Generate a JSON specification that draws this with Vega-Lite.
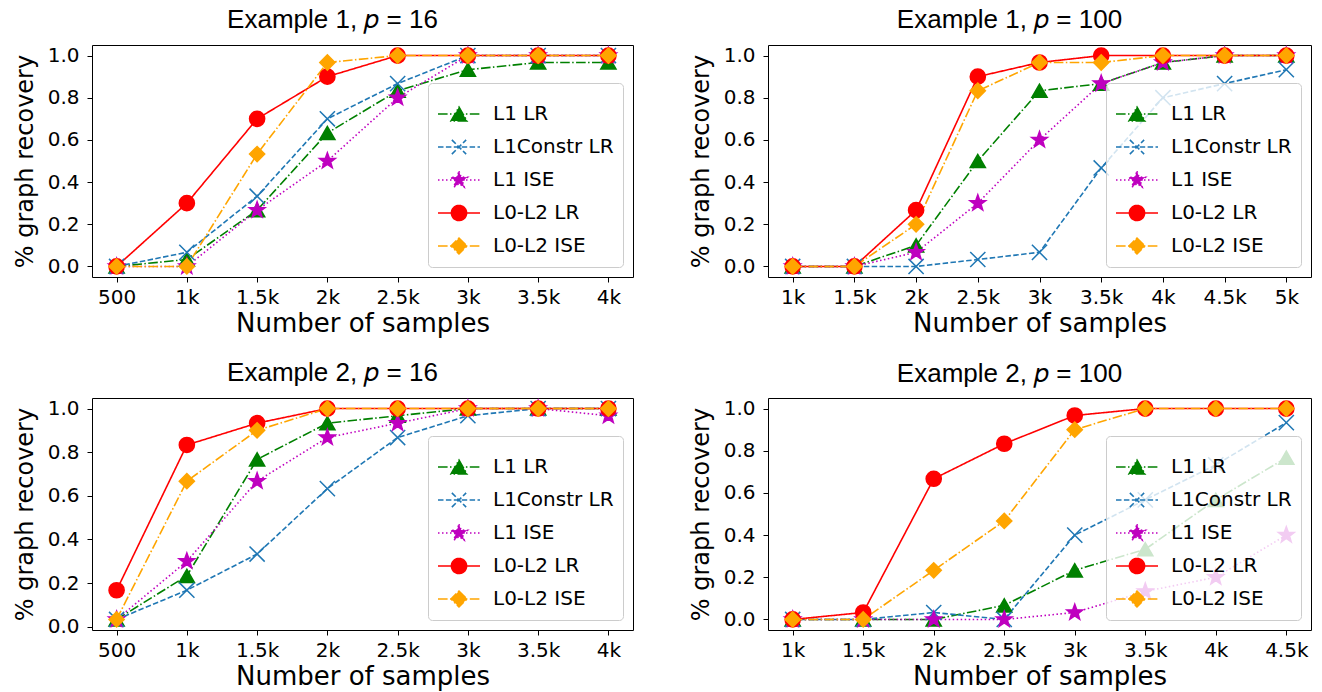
{
  "$schema": "https://vega.github.io/schema/vega-lite/v6.json",
  "background": "white",
  "padding": {"left": 12, "top": 6, "right": 5, "bottom": 5},
  "columns": 2,
  "spacing": {"row": 22, "column": 54},
  "datasets": {
    "e1p16": [
      {"n":500,"m":"L1 LR","v":0},{"n":1000,"m":"L1 LR","v":0.033},{"n":1500,"m":"L1 LR","v":0.267},{"n":2000,"m":"L1 LR","v":0.633},{"n":2500,"m":"L1 LR","v":0.833},{"n":3000,"m":"L1 LR","v":0.933},{"n":3500,"m":"L1 LR","v":0.967},{"n":4000,"m":"L1 LR","v":0.967},
      {"n":500,"m":"L1Constr LR","v":0},{"n":1000,"m":"L1Constr LR","v":0.067},{"n":1500,"m":"L1Constr LR","v":0.333},{"n":2000,"m":"L1Constr LR","v":0.7},{"n":2500,"m":"L1Constr LR","v":0.867},{"n":3000,"m":"L1Constr LR","v":1},{"n":3500,"m":"L1Constr LR","v":1},{"n":4000,"m":"L1Constr LR","v":1},
      {"n":500,"m":"L1 ISE","v":0},{"n":1000,"m":"L1 ISE","v":0},{"n":1500,"m":"L1 ISE","v":0.267},{"n":2000,"m":"L1 ISE","v":0.5},{"n":2500,"m":"L1 ISE","v":0.8},{"n":3000,"m":"L1 ISE","v":1},{"n":3500,"m":"L1 ISE","v":1},{"n":4000,"m":"L1 ISE","v":1},
      {"n":500,"m":"L0-L2 LR","v":0},{"n":1000,"m":"L0-L2 LR","v":0.3},{"n":1500,"m":"L0-L2 LR","v":0.7},{"n":2000,"m":"L0-L2 LR","v":0.9},{"n":2500,"m":"L0-L2 LR","v":1},{"n":3000,"m":"L0-L2 LR","v":1},{"n":3500,"m":"L0-L2 LR","v":1},{"n":4000,"m":"L0-L2 LR","v":1},
      {"n":500,"m":"L0-L2 ISE","v":0},{"n":1000,"m":"L0-L2 ISE","v":0},{"n":1500,"m":"L0-L2 ISE","v":0.533},{"n":2000,"m":"L0-L2 ISE","v":0.967},{"n":2500,"m":"L0-L2 ISE","v":1},{"n":3000,"m":"L0-L2 ISE","v":1},{"n":3500,"m":"L0-L2 ISE","v":1},{"n":4000,"m":"L0-L2 ISE","v":1}
    ],
    "e1p100": [
      {"n":1000,"m":"L1 LR","v":0},{"n":1500,"m":"L1 LR","v":0},{"n":2000,"m":"L1 LR","v":0.1},{"n":2500,"m":"L1 LR","v":0.5},{"n":3000,"m":"L1 LR","v":0.833},{"n":3500,"m":"L1 LR","v":0.867},{"n":4000,"m":"L1 LR","v":0.967},{"n":4500,"m":"L1 LR","v":1},{"n":5000,"m":"L1 LR","v":1},
      {"n":1000,"m":"L1Constr LR","v":0},{"n":1500,"m":"L1Constr LR","v":0},{"n":2000,"m":"L1Constr LR","v":0},{"n":2500,"m":"L1Constr LR","v":0.033},{"n":3000,"m":"L1Constr LR","v":0.067},{"n":3500,"m":"L1Constr LR","v":0.467},{"n":4000,"m":"L1Constr LR","v":0.8},{"n":4500,"m":"L1Constr LR","v":0.867},{"n":5000,"m":"L1Constr LR","v":0.933},
      {"n":1000,"m":"L1 ISE","v":0},{"n":1500,"m":"L1 ISE","v":0},{"n":2000,"m":"L1 ISE","v":0.067},{"n":2500,"m":"L1 ISE","v":0.3},{"n":3000,"m":"L1 ISE","v":0.6},{"n":3500,"m":"L1 ISE","v":0.867},{"n":4000,"m":"L1 ISE","v":0.967},{"n":4500,"m":"L1 ISE","v":1},{"n":5000,"m":"L1 ISE","v":1},
      {"n":1000,"m":"L0-L2 LR","v":0},{"n":1500,"m":"L0-L2 LR","v":0},{"n":2000,"m":"L0-L2 LR","v":0.267},{"n":2500,"m":"L0-L2 LR","v":0.9},{"n":3000,"m":"L0-L2 LR","v":0.967},{"n":3500,"m":"L0-L2 LR","v":1},{"n":4000,"m":"L0-L2 LR","v":1},{"n":4500,"m":"L0-L2 LR","v":1},{"n":5000,"m":"L0-L2 LR","v":1},
      {"n":1000,"m":"L0-L2 ISE","v":0},{"n":1500,"m":"L0-L2 ISE","v":0},{"n":2000,"m":"L0-L2 ISE","v":0.2},{"n":2500,"m":"L0-L2 ISE","v":0.833},{"n":3000,"m":"L0-L2 ISE","v":0.967},{"n":3500,"m":"L0-L2 ISE","v":0.967},{"n":4000,"m":"L0-L2 ISE","v":1},{"n":4500,"m":"L0-L2 ISE","v":1},{"n":5000,"m":"L0-L2 ISE","v":1}
    ],
    "e2p16": [
      {"n":500,"m":"L1 LR","v":0.033},{"n":1000,"m":"L1 LR","v":0.233},{"n":1500,"m":"L1 LR","v":0.767},{"n":2000,"m":"L1 LR","v":0.933},{"n":2500,"m":"L1 LR","v":0.967},{"n":3000,"m":"L1 LR","v":1},{"n":3500,"m":"L1 LR","v":1},{"n":4000,"m":"L1 LR","v":1},
      {"n":500,"m":"L1Constr LR","v":0.033},{"n":1000,"m":"L1Constr LR","v":0.167},{"n":1500,"m":"L1Constr LR","v":0.333},{"n":2000,"m":"L1Constr LR","v":0.633},{"n":2500,"m":"L1Constr LR","v":0.867},{"n":3000,"m":"L1Constr LR","v":0.967},{"n":3500,"m":"L1Constr LR","v":1},{"n":4000,"m":"L1Constr LR","v":1},
      {"n":500,"m":"L1 ISE","v":0.033},{"n":1000,"m":"L1 ISE","v":0.3},{"n":1500,"m":"L1 ISE","v":0.667},{"n":2000,"m":"L1 ISE","v":0.867},{"n":2500,"m":"L1 ISE","v":0.933},{"n":3000,"m":"L1 ISE","v":1},{"n":3500,"m":"L1 ISE","v":1},{"n":4000,"m":"L1 ISE","v":0.967},
      {"n":500,"m":"L0-L2 LR","v":0.167},{"n":1000,"m":"L0-L2 LR","v":0.833},{"n":1500,"m":"L0-L2 LR","v":0.933},{"n":2000,"m":"L0-L2 LR","v":1},{"n":2500,"m":"L0-L2 LR","v":1},{"n":3000,"m":"L0-L2 LR","v":1},{"n":3500,"m":"L0-L2 LR","v":1},{"n":4000,"m":"L0-L2 LR","v":1},
      {"n":500,"m":"L0-L2 ISE","v":0.033},{"n":1000,"m":"L0-L2 ISE","v":0.667},{"n":1500,"m":"L0-L2 ISE","v":0.9},{"n":2000,"m":"L0-L2 ISE","v":1},{"n":2500,"m":"L0-L2 ISE","v":1},{"n":3000,"m":"L0-L2 ISE","v":1},{"n":3500,"m":"L0-L2 ISE","v":1},{"n":4000,"m":"L0-L2 ISE","v":1}
    ],
    "e2p100": [
      {"n":1000,"m":"L1 LR","v":0},{"n":1500,"m":"L1 LR","v":0},{"n":2000,"m":"L1 LR","v":0},{"n":2500,"m":"L1 LR","v":0.067},{"n":3000,"m":"L1 LR","v":0.233},{"n":3500,"m":"L1 LR","v":0.333},{"n":4000,"m":"L1 LR","v":0.567},{"n":4500,"m":"L1 LR","v":0.767},
      {"n":1000,"m":"L1Constr LR","v":0},{"n":1500,"m":"L1Constr LR","v":0},{"n":2000,"m":"L1Constr LR","v":0.033},{"n":2500,"m":"L1Constr LR","v":0},{"n":3000,"m":"L1Constr LR","v":0.4},{"n":3500,"m":"L1Constr LR","v":0.567},{"n":4000,"m":"L1Constr LR","v":0.733},{"n":4500,"m":"L1Constr LR","v":0.933},
      {"n":1000,"m":"L1 ISE","v":0},{"n":1500,"m":"L1 ISE","v":0},{"n":2000,"m":"L1 ISE","v":0},{"n":2500,"m":"L1 ISE","v":0},{"n":3000,"m":"L1 ISE","v":0.033},{"n":3500,"m":"L1 ISE","v":0.133},{"n":4000,"m":"L1 ISE","v":0.2},{"n":4500,"m":"L1 ISE","v":0.4},
      {"n":1000,"m":"L0-L2 LR","v":0},{"n":1500,"m":"L0-L2 LR","v":0.033},{"n":2000,"m":"L0-L2 LR","v":0.667},{"n":2500,"m":"L0-L2 LR","v":0.833},{"n":3000,"m":"L0-L2 LR","v":0.967},{"n":3500,"m":"L0-L2 LR","v":1},{"n":4000,"m":"L0-L2 LR","v":1},{"n":4500,"m":"L0-L2 LR","v":1},
      {"n":1000,"m":"L0-L2 ISE","v":0},{"n":1500,"m":"L0-L2 ISE","v":0},{"n":2000,"m":"L0-L2 ISE","v":0.233},{"n":2500,"m":"L0-L2 ISE","v":0.467},{"n":3000,"m":"L0-L2 ISE","v":0.9},{"n":3500,"m":"L0-L2 ISE","v":1},{"n":4000,"m":"L0-L2 ISE","v":1},{"n":4500,"m":"L0-L2 ISE","v":1}
    ]
  },
  "resolve": {"scale": {"color": "independent", "fill": "independent", "stroke": "independent", "shape": "independent", "strokeDash": "independent"}, "legend": {"color": "independent", "fill": "independent", "stroke": "independent", "shape": "independent", "strokeDash": "independent"}},
  "concat": [
    {
      "title": {"text": "Example 1, 𝑝 = 16", "dx": -30},
      "width": 541, "height": 232,
      "data": {"name": "e1p16"},
      "encoding": {
        "x": {"field": "n", "type": "quantitative", "scale": {"domain": [325, 4175], "nice": false, "zero": false}, "axis": {"values": [500,1000,1500,2000,2500,3000,3500,4000], "labelExpr": "datum.value < 1000 ? '500' : (datum.value/1000) + 'k'", "title": "Number of samples"}},
        "y": {"field": "v", "type": "quantitative", "scale": {"domain": [-0.05, 1.05], "nice": false, "zero": false}, "axis": {"values": [0,0.2,0.4,0.6,0.8,1], "format": ".1f", "title": "% graph recovery"}}
      },
      "layer": [
        {"mark": {"type": "line", "strokeWidth": 1.6}, "encoding": {
          "color": {"field": "m", "type": "nominal", "scale": {"domain": ["L1 LR","L1Constr LR","L1 ISE","L0-L2 LR","L0-L2 ISE"], "range": ["#008000","#1f77b4","#bf00bf","#ff0000","#ffa500"]}, "legend": null},
          "strokeDash": {"field": "m", "type": "nominal", "scale": {"domain": ["L1 LR","L1Constr LR","L1 ISE","L0-L2 LR","L0-L2 ISE"], "range": [[9.6,2.4,1.5,2.4],[5.5,2.4],[1.5,2.5],[1,0],[9.6,2.4,1.5,2.4]]}, "legend": null}}},
        {"mark": {"type": "point", "filled": true, "opacity": 1, "size": 230, "strokeWidth": 1.5}, "encoding": {
          "fill": {"field": "m", "type": "nominal", "scale": {"domain": ["L1 LR","L1Constr LR","L1 ISE","L0-L2 LR","L0-L2 ISE"], "range": ["#008000","#1f77b4","#bf00bf","#ff0000","#ffa500"]}, "legend": null},
          "stroke": {"field": "m", "type": "nominal", "scale": {"domain": ["L1 LR","L1Constr LR","L1 ISE","L0-L2 LR","L0-L2 ISE"], "range": ["#008000","#1f77b4","#bf00bf","#ff0000","#ffa500"]}, "legend": null},
          "shape": {"field": "m", "type": "nominal", "scale": {"domain": ["L1 LR","L1Constr LR","L1 ISE","L0-L2 LR","L0-L2 ISE"], "range": ["triangle-up","M-1,-1L1,1M-1,1L1,-1","M0,-1.1L0.2645,-0.3641L1.0462,-0.3399L0.428,0.1391L0.6466,0.8899L0,0.45L-0.6466,0.8899L-0.428,0.1391L-1.0462,-0.3399L-0.2645,-0.3641Z","circle","diamond"]}, "legend": null}}},
        {"mark": {"type": "point", "filled": true, "opacity": 0}, "encoding": {
          "fill": {"field": "m", "type": "nominal", "scale": {"domain": ["L1 LR","L1Constr LR","L1 ISE","L0-L2 LR","L0-L2 ISE"], "range": ["#008000","#1f77b4","#bf00bf","#ff0000","#ffa500"]}, "legend": {"title": null}},
          "stroke": {"field": "m", "type": "nominal", "scale": {"domain": ["L1 LR","L1Constr LR","L1 ISE","L0-L2 LR","L0-L2 ISE"], "range": ["#008000","#1f77b4","#bf00bf","#ff0000","#ffa500"]}, "legend": {"title": null}},
          "strokeDash": {"field": "m", "type": "nominal", "scale": {"domain": ["L1 LR","L1Constr LR","L1 ISE","L0-L2 LR","L0-L2 ISE"], "range": [[9.6,2.4,1.5,2.4],[5.5,2.4],[1.5,2.5],[1,0],[9.6,2.4,1.5,2.4]]}, "legend": {"title": null}},
          "shape": {"field": "m", "type": "nominal", "scale": {"domain": ["L1 LR","L1Constr LR","L1 ISE","L0-L2 LR","L0-L2 ISE"], "range": ["M-1,0H1M0,-0.33L0.38,0.33L-0.38,0.33Z","M-1,0H1M-0.34,-0.34L0.34,0.34M-0.34,0.34L0.34,-0.34","M-1,0H1M0,-0.42L0.1,-0.1375L0.3994,-0.1298L0.1617,0.0525L0.2469,0.3398L0,0.17L-0.2469,0.3398L-0.1617,0.0525L-0.3994,-0.1298L-0.1,-0.1375Z","M-1,0H1M0.36,0C0.36,0.1988,0.1988,0.36,0,0.36C-0.1988,0.36,-0.36,0.1988,-0.36,0C-0.36,-0.1988,-0.1988,-0.36,0,-0.36C0.1988,-0.36,0.36,-0.1988,0.36,0Z","M-1,0H1M0,-0.38L0.38,0L0,0.38L-0.38,0Z"]}, "legend": {"title": null}}}}
      ],
      "resolve": {"scale": {"color": "independent", "fill": "independent", "stroke": "independent", "shape": "independent", "strokeDash": "independent"}}
    },
    {
      "title": {"text": "Example 1, 𝑝 = 100", "dx": -30},
      "width": 543, "height": 232,
      "data": {"name": "e1p100"},
      "encoding": {
        "x": {"field": "n", "type": "quantitative", "scale": {"domain": [800, 5200], "nice": false, "zero": false}, "axis": {"values": [1000,1500,2000,2500,3000,3500,4000,4500,5000], "labelExpr": "datum.value < 1000 ? '500' : (datum.value/1000) + 'k'", "title": "Number of samples"}},
        "y": {"field": "v", "type": "quantitative", "scale": {"domain": [-0.05, 1.05], "nice": false, "zero": false}, "axis": {"values": [0,0.2,0.4,0.6,0.8,1], "format": ".1f", "title": "% graph recovery"}}
      },
      "layer": [
        {"mark": {"type": "line", "strokeWidth": 1.6}, "encoding": {
          "color": {"field": "m", "type": "nominal", "scale": {"domain": ["L1 LR","L1Constr LR","L1 ISE","L0-L2 LR","L0-L2 ISE"], "range": ["#008000","#1f77b4","#bf00bf","#ff0000","#ffa500"]}, "legend": null},
          "strokeDash": {"field": "m", "type": "nominal", "scale": {"domain": ["L1 LR","L1Constr LR","L1 ISE","L0-L2 LR","L0-L2 ISE"], "range": [[9.6,2.4,1.5,2.4],[5.5,2.4],[1.5,2.5],[1,0],[9.6,2.4,1.5,2.4]]}, "legend": null}}},
        {"mark": {"type": "point", "filled": true, "opacity": 1, "size": 230, "strokeWidth": 1.5}, "encoding": {
          "fill": {"field": "m", "type": "nominal", "scale": {"domain": ["L1 LR","L1Constr LR","L1 ISE","L0-L2 LR","L0-L2 ISE"], "range": ["#008000","#1f77b4","#bf00bf","#ff0000","#ffa500"]}, "legend": null},
          "stroke": {"field": "m", "type": "nominal", "scale": {"domain": ["L1 LR","L1Constr LR","L1 ISE","L0-L2 LR","L0-L2 ISE"], "range": ["#008000","#1f77b4","#bf00bf","#ff0000","#ffa500"]}, "legend": null},
          "shape": {"field": "m", "type": "nominal", "scale": {"domain": ["L1 LR","L1Constr LR","L1 ISE","L0-L2 LR","L0-L2 ISE"], "range": ["triangle-up","M-1,-1L1,1M-1,1L1,-1","M0,-1.1L0.2645,-0.3641L1.0462,-0.3399L0.428,0.1391L0.6466,0.8899L0,0.45L-0.6466,0.8899L-0.428,0.1391L-1.0462,-0.3399L-0.2645,-0.3641Z","circle","diamond"]}, "legend": null}}},
        {"mark": {"type": "point", "filled": true, "opacity": 0}, "encoding": {
          "fill": {"field": "m", "type": "nominal", "scale": {"domain": ["L1 LR","L1Constr LR","L1 ISE","L0-L2 LR","L0-L2 ISE"], "range": ["#008000","#1f77b4","#bf00bf","#ff0000","#ffa500"]}, "legend": {"title": null}},
          "stroke": {"field": "m", "type": "nominal", "scale": {"domain": ["L1 LR","L1Constr LR","L1 ISE","L0-L2 LR","L0-L2 ISE"], "range": ["#008000","#1f77b4","#bf00bf","#ff0000","#ffa500"]}, "legend": {"title": null}},
          "strokeDash": {"field": "m", "type": "nominal", "scale": {"domain": ["L1 LR","L1Constr LR","L1 ISE","L0-L2 LR","L0-L2 ISE"], "range": [[9.6,2.4,1.5,2.4],[5.5,2.4],[1.5,2.5],[1,0],[9.6,2.4,1.5,2.4]]}, "legend": {"title": null}},
          "shape": {"field": "m", "type": "nominal", "scale": {"domain": ["L1 LR","L1Constr LR","L1 ISE","L0-L2 LR","L0-L2 ISE"], "range": ["M-1,0H1M0,-0.33L0.38,0.33L-0.38,0.33Z","M-1,0H1M-0.34,-0.34L0.34,0.34M-0.34,0.34L0.34,-0.34","M-1,0H1M0,-0.42L0.1,-0.1375L0.3994,-0.1298L0.1617,0.0525L0.2469,0.3398L0,0.17L-0.2469,0.3398L-0.1617,0.0525L-0.3994,-0.1298L-0.1,-0.1375Z","M-1,0H1M0.36,0C0.36,0.1988,0.1988,0.36,0,0.36C-0.1988,0.36,-0.36,0.1988,-0.36,0C-0.36,-0.1988,-0.1988,-0.36,0,-0.36C0.1988,-0.36,0.36,-0.1988,0.36,0Z","M-1,0H1M0,-0.38L0.38,0L0,0.38L-0.38,0Z"]}, "legend": {"title": null}}}}
      ],
      "resolve": {"scale": {"color": "independent", "fill": "independent", "stroke": "independent", "shape": "independent", "strokeDash": "independent"}}
    },
    {
      "title": {"text": "Example 2, 𝑝 = 16", "dx": -30},
      "width": 541, "height": 232,
      "data": {"name": "e2p16"},
      "encoding": {
        "x": {"field": "n", "type": "quantitative", "scale": {"domain": [325, 4175], "nice": false, "zero": false}, "axis": {"values": [500,1000,1500,2000,2500,3000,3500,4000], "labelExpr": "datum.value < 1000 ? '500' : (datum.value/1000) + 'k'", "title": "Number of samples"}},
        "y": {"field": "v", "type": "quantitative", "scale": {"domain": [-0.0153, 1.0483], "nice": false, "zero": false}, "axis": {"values": [0,0.2,0.4,0.6,0.8,1], "format": ".1f", "title": "% graph recovery"}}
      },
      "layer": [
        {"mark": {"type": "line", "strokeWidth": 1.6}, "encoding": {
          "color": {"field": "m", "type": "nominal", "scale": {"domain": ["L1 LR","L1Constr LR","L1 ISE","L0-L2 LR","L0-L2 ISE"], "range": ["#008000","#1f77b4","#bf00bf","#ff0000","#ffa500"]}, "legend": null},
          "strokeDash": {"field": "m", "type": "nominal", "scale": {"domain": ["L1 LR","L1Constr LR","L1 ISE","L0-L2 LR","L0-L2 ISE"], "range": [[9.6,2.4,1.5,2.4],[5.5,2.4],[1.5,2.5],[1,0],[9.6,2.4,1.5,2.4]]}, "legend": null}}},
        {"mark": {"type": "point", "filled": true, "opacity": 1, "size": 230, "strokeWidth": 1.5}, "encoding": {
          "fill": {"field": "m", "type": "nominal", "scale": {"domain": ["L1 LR","L1Constr LR","L1 ISE","L0-L2 LR","L0-L2 ISE"], "range": ["#008000","#1f77b4","#bf00bf","#ff0000","#ffa500"]}, "legend": null},
          "stroke": {"field": "m", "type": "nominal", "scale": {"domain": ["L1 LR","L1Constr LR","L1 ISE","L0-L2 LR","L0-L2 ISE"], "range": ["#008000","#1f77b4","#bf00bf","#ff0000","#ffa500"]}, "legend": null},
          "shape": {"field": "m", "type": "nominal", "scale": {"domain": ["L1 LR","L1Constr LR","L1 ISE","L0-L2 LR","L0-L2 ISE"], "range": ["triangle-up","M-1,-1L1,1M-1,1L1,-1","M0,-1.1L0.2645,-0.3641L1.0462,-0.3399L0.428,0.1391L0.6466,0.8899L0,0.45L-0.6466,0.8899L-0.428,0.1391L-1.0462,-0.3399L-0.2645,-0.3641Z","circle","diamond"]}, "legend": null}}},
        {"mark": {"type": "point", "filled": true, "opacity": 0}, "encoding": {
          "fill": {"field": "m", "type": "nominal", "scale": {"domain": ["L1 LR","L1Constr LR","L1 ISE","L0-L2 LR","L0-L2 ISE"], "range": ["#008000","#1f77b4","#bf00bf","#ff0000","#ffa500"]}, "legend": {"title": null}},
          "stroke": {"field": "m", "type": "nominal", "scale": {"domain": ["L1 LR","L1Constr LR","L1 ISE","L0-L2 LR","L0-L2 ISE"], "range": ["#008000","#1f77b4","#bf00bf","#ff0000","#ffa500"]}, "legend": {"title": null}},
          "strokeDash": {"field": "m", "type": "nominal", "scale": {"domain": ["L1 LR","L1Constr LR","L1 ISE","L0-L2 LR","L0-L2 ISE"], "range": [[9.6,2.4,1.5,2.4],[5.5,2.4],[1.5,2.5],[1,0],[9.6,2.4,1.5,2.4]]}, "legend": {"title": null}},
          "shape": {"field": "m", "type": "nominal", "scale": {"domain": ["L1 LR","L1Constr LR","L1 ISE","L0-L2 LR","L0-L2 ISE"], "range": ["M-1,0H1M0,-0.33L0.38,0.33L-0.38,0.33Z","M-1,0H1M-0.34,-0.34L0.34,0.34M-0.34,0.34L0.34,-0.34","M-1,0H1M0,-0.42L0.1,-0.1375L0.3994,-0.1298L0.1617,0.0525L0.2469,0.3398L0,0.17L-0.2469,0.3398L-0.1617,0.0525L-0.3994,-0.1298L-0.1,-0.1375Z","M-1,0H1M0.36,0C0.36,0.1988,0.1988,0.36,0,0.36C-0.1988,0.36,-0.36,0.1988,-0.36,0C-0.36,-0.1988,-0.1988,-0.36,0,-0.36C0.1988,-0.36,0.36,-0.1988,0.36,0Z","M-1,0H1M0,-0.38L0.38,0L0,0.38L-0.38,0Z"]}, "legend": {"title": null}}}}
      ],
      "resolve": {"scale": {"color": "independent", "fill": "independent", "stroke": "independent", "shape": "independent", "strokeDash": "independent"}}
    },
    {
      "title": {"text": "Example 2, 𝑝 = 100", "dx": -30},
      "width": 543, "height": 232,
      "data": {"name": "e2p100"},
      "encoding": {
        "x": {"field": "n", "type": "quantitative", "scale": {"domain": [825, 4675], "nice": false, "zero": false}, "axis": {"values": [1000,1500,2000,2500,3000,3500,4000,4500], "labelExpr": "datum.value < 1000 ? '500' : (datum.value/1000) + 'k'", "title": "Number of samples"}},
        "y": {"field": "v", "type": "quantitative", "scale": {"domain": [-0.05, 1.05], "nice": false, "zero": false}, "axis": {"values": [0,0.2,0.4,0.6,0.8,1], "format": ".1f", "title": "% graph recovery"}}
      },
      "layer": [
        {"mark": {"type": "line", "strokeWidth": 1.6}, "encoding": {
          "color": {"field": "m", "type": "nominal", "scale": {"domain": ["L1 LR","L1Constr LR","L1 ISE","L0-L2 LR","L0-L2 ISE"], "range": ["#008000","#1f77b4","#bf00bf","#ff0000","#ffa500"]}, "legend": null},
          "strokeDash": {"field": "m", "type": "nominal", "scale": {"domain": ["L1 LR","L1Constr LR","L1 ISE","L0-L2 LR","L0-L2 ISE"], "range": [[9.6,2.4,1.5,2.4],[5.5,2.4],[1.5,2.5],[1,0],[9.6,2.4,1.5,2.4]]}, "legend": null}}},
        {"mark": {"type": "point", "filled": true, "opacity": 1, "size": 230, "strokeWidth": 1.5}, "encoding": {
          "fill": {"field": "m", "type": "nominal", "scale": {"domain": ["L1 LR","L1Constr LR","L1 ISE","L0-L2 LR","L0-L2 ISE"], "range": ["#008000","#1f77b4","#bf00bf","#ff0000","#ffa500"]}, "legend": null},
          "stroke": {"field": "m", "type": "nominal", "scale": {"domain": ["L1 LR","L1Constr LR","L1 ISE","L0-L2 LR","L0-L2 ISE"], "range": ["#008000","#1f77b4","#bf00bf","#ff0000","#ffa500"]}, "legend": null},
          "shape": {"field": "m", "type": "nominal", "scale": {"domain": ["L1 LR","L1Constr LR","L1 ISE","L0-L2 LR","L0-L2 ISE"], "range": ["triangle-up","M-1,-1L1,1M-1,1L1,-1","M0,-1.1L0.2645,-0.3641L1.0462,-0.3399L0.428,0.1391L0.6466,0.8899L0,0.45L-0.6466,0.8899L-0.428,0.1391L-1.0462,-0.3399L-0.2645,-0.3641Z","circle","diamond"]}, "legend": null}}},
        {"mark": {"type": "point", "filled": true, "opacity": 0}, "encoding": {
          "fill": {"field": "m", "type": "nominal", "scale": {"domain": ["L1 LR","L1Constr LR","L1 ISE","L0-L2 LR","L0-L2 ISE"], "range": ["#008000","#1f77b4","#bf00bf","#ff0000","#ffa500"]}, "legend": {"title": null}},
          "stroke": {"field": "m", "type": "nominal", "scale": {"domain": ["L1 LR","L1Constr LR","L1 ISE","L0-L2 LR","L0-L2 ISE"], "range": ["#008000","#1f77b4","#bf00bf","#ff0000","#ffa500"]}, "legend": {"title": null}},
          "strokeDash": {"field": "m", "type": "nominal", "scale": {"domain": ["L1 LR","L1Constr LR","L1 ISE","L0-L2 LR","L0-L2 ISE"], "range": [[9.6,2.4,1.5,2.4],[5.5,2.4],[1.5,2.5],[1,0],[9.6,2.4,1.5,2.4]]}, "legend": {"title": null}},
          "shape": {"field": "m", "type": "nominal", "scale": {"domain": ["L1 LR","L1Constr LR","L1 ISE","L0-L2 LR","L0-L2 ISE"], "range": ["M-1,0H1M0,-0.33L0.38,0.33L-0.38,0.33Z","M-1,0H1M-0.34,-0.34L0.34,0.34M-0.34,0.34L0.34,-0.34","M-1,0H1M0,-0.42L0.1,-0.1375L0.3994,-0.1298L0.1617,0.0525L0.2469,0.3398L0,0.17L-0.2469,0.3398L-0.1617,0.0525L-0.3994,-0.1298L-0.1,-0.1375Z","M-1,0H1M0.36,0C0.36,0.1988,0.1988,0.36,0,0.36C-0.1988,0.36,-0.36,0.1988,-0.36,0C-0.36,-0.1988,-0.1988,-0.36,0,-0.36C0.1988,-0.36,0.36,-0.1988,0.36,0Z","M-1,0H1M0,-0.38L0.38,0L0,0.38L-0.38,0Z"]}, "legend": {"title": null}}}}
      ],
      "resolve": {"scale": {"color": "independent", "fill": "independent", "stroke": "independent", "shape": "independent", "strokeDash": "independent"}}
    }
  ],
  "config": {
    "view": {"stroke": "black", "strokeWidth": 1},
    "axis": {"domain": false, "grid": false, "ticks": true, "tickColor": "black", "tickSize": 5, "tickWidth": 1, "labelFont": "DejaVu Sans", "labelFontSize": 20, "labelColor": "black", "labelFlush": false, "labelOverlap": false, "titleFont": "DejaVu Sans", "titleFontWeight": "normal", "titleColor": "black"},
    "axisX": {"titleFontSize": 26, "titlePadding": 3, "labelPadding": 5},
    "axisY": {"titleFontSize": 24, "titlePadding": 10, "labelPadding": 8},
    "title": {"font": "Liberation Sans", "fontSize": 26, "fontWeight": "normal", "color": "black", "offset": 11},
    "legend": {"orient": "bottom-right", "offset": 10, "labelFont": "DejaVu Sans", "labelFontSize": 20, "labelColor": "black", "fillColor": "rgba(255,255,255,0.8)", "strokeColor": "#cccccc", "cornerRadius": 4, "padding": 9, "rowPadding": -2, "labelOffset": 12, "symbolSize": 1764, "symbolStrokeWidth": 1.6, "symbolOpacity": 1}
  }
}
